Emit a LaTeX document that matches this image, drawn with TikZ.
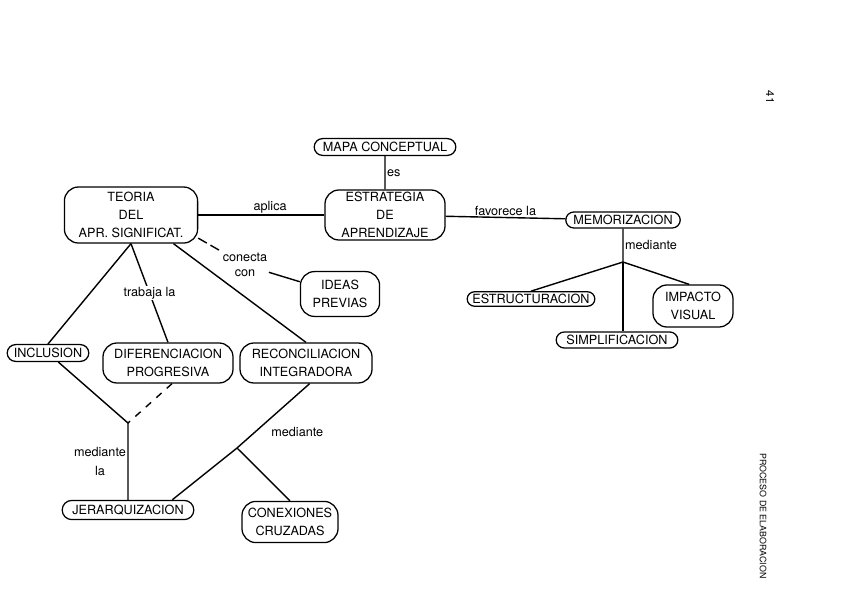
\documentclass[tikz,border=0pt]{standalone}
\usepackage{fontspec}
\setmainfont{TeX Gyre Heros}
\usetikzlibrary{shapes.misc}

\begin{document}
\begin{tikzpicture}[
    x=0.025cm, y=-0.025cm,
    every node/.style={font=\fontsize{9}{13}\selectfont},
    concept/.style={rectangle, draw, line width=0.9pt, rounded corners=10pt, align=center, inner sep=1pt},
    pill/.style={rounded rectangle, draw, line width=0.9pt, inner xsep=2pt, inner ysep=0pt},
    link/.style={line width=1pt},
    dashedlink/.style={line width=1pt, dash pattern=on 7pt off 3pt},
    brokenlink/.style={line width=1pt, dash pattern=on 5pt off 5pt},
    lbl/.style={inner sep=1pt, align=center}
]

\useasboundingbox (0,0) rectangle (848,599);

% === Top: map and strategy ===
\node[pill, minimum width=3.68cm, minimum height=0.42cm] (mapa) at (385,147) {MAPA CONCEPTUAL};
\node[concept, minimum width=3cm, minimum height=1.25cm] (estrategia) at (385,215) {ESTRATEGIA\\DE\\APRENDIZAJE};
\node[concept, minimum width=3.33cm, minimum height=1.4cm] (teoria) at (131,215) {TEORIA\\DEL\\APR. SIGNIFICAT.};
\node[concept, minimum width=1.98cm, minimum height=1.12cm] (ideas) at (340,294) {IDEAS\\PREVIAS};
\node[lbl] (conecta) at (245,265) {conecta\\[-2pt]con};

% === Right branch ===
\node[pill, minimum width=3cm, minimum height=0.4cm] (memo) at (623,220) {MEMORIZACION};
\coordinate (jmem) at (623,262);
\node[pill, minimum width=3.33cm, minimum height=0.36cm] (estruct) at (531,299) {ESTRUCTURACION};
\node[concept, minimum width=2cm, minimum height=1.05cm] (impacto) at (693,306) {IMPACTO\\VISUAL};
\node[pill, minimum width=3.18cm, minimum height=0.4cm] (simpl) at (617,340) {SIMPLIFICACION};

% === Left branch ===
\node[pill, minimum width=2.18cm, minimum height=0.42cm] (inclusion) at (48,353) {INCLUSION};
\node[concept, minimum width=3.25cm, minimum height=1cm] (difer) at (168,363) {DIFERENCIACION\\PROGRESIVA};
\node[concept, minimum width=3.3cm, minimum height=1cm] (recon) at (306,363) {RECONCILIACION\\INTEGRADORA};
\coordinate (jinc) at (128,423);
\coordinate (jrec) at (237,448);
\node[pill, minimum width=3.43cm, minimum height=0.48cm] (jerar) at (128,510) {JERARQUIZACION};
\node[concept, minimum width=2.4cm, minimum height=1.03cm] (conex) at (290,522) {CONEXIONES\\CRUZADAS};

% === Page margin ===
\node[rotate=-90, font=\fontsize{8}{9}\selectfont] (pagenum) at (770,97) {41};
\node[rotate=-90, font=\fontsize{6.3}{7}\selectfont] (pagetitle) at (763,516) {PROCESO DE ELABORACION};

% === Connectors ===
\draw[link] (mapa) -- node[lbl, right] {es} (estrategia);
\draw[link] (teoria) -- node[lbl, above, pos=0.57] {aplica} (estrategia);
\draw[link] (estrategia) -- node[lbl, above] {favorece la} (memo);
\draw[dashedlink] (teoria.-19) -- (conecta);
\draw[link] (conecta) -- (ideas);

\draw[link] (memo) -- node[lbl, right] {mediante} (jmem);
\draw[link] (jmem) -- (estruct.north);
\draw[link] (jmem) -- (jmem |- simpl.north);
\draw[link] (jmem) -- (impacto.100);

\draw[link] (teoria.south) -- (inclusion.north);
\draw[link] (teoria.south) -- node[lbl, fill=white] {trabaja la} (difer.north);
\draw[link] (teoria.-34) -- (recon.north);

\draw[link] (inclusion) -- (jinc);
\draw[brokenlink] (difer.-79) -- (jinc);
\draw[link] (jinc) -- node[lbl, left] {mediante\\[1pt]la} (jerar);
\draw[link] (recon.-80) -- node[lbl, pos=0.75, right=10pt] {mediante} (jrec) -- (jerar.13);
\draw[link] (jrec) -- (conex.north);

\end{tikzpicture}
\end{document}
